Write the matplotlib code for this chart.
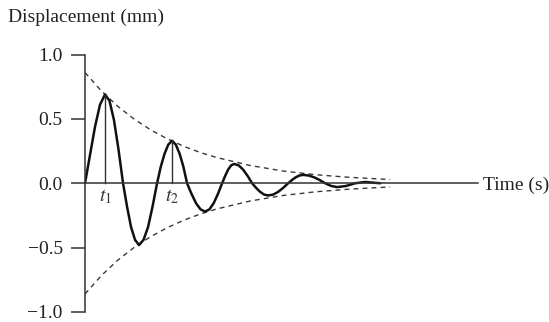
import matplotlib
matplotlib.use("Agg")
import matplotlib.pyplot as plt

plt.rcParams['font.family'] = ['Liberation Serif', 'DejaVu Serif']
plt.rcParams['mathtext.fontset'] = 'stix'

# displacement (time in arbitrary units, mm)
temps = [0.000, 0.076, 0.152, 0.227, 0.303, 0.371, 0.439, 0.508, 0.576,
         0.636, 0.697, 0.758, 0.818, 0.886, 0.955, 1.023, 1.091,
         1.148, 1.205, 1.261, 1.318, 1.375, 1.432, 1.489, 1.545,
         1.614, 1.682, 1.750, 1.818, 1.883, 1.947, 2.012, 2.076,
         2.122, 2.167, 2.213, 2.258, 2.326, 2.394, 2.462, 2.530,
         2.591, 2.652, 2.712, 2.773, 2.849, 2.924, 3.000, 3.076,
         3.133, 3.190, 3.246, 3.303, 3.386, 3.470, 3.553, 3.636,
         3.727, 3.818, 3.954, 4.090, 4.240, 4.470]
depl = [0.00, 0.22, 0.44, 0.61, 0.69, 0.64, 0.49, 0.26, 0.00,
        -0.18, -0.34, -0.44, -0.48, -0.44, -0.34, -0.18, 0.00,
        0.13, 0.23, 0.30, 0.33, 0.30, 0.23, 0.13, 0.00,
        -0.084, -0.156, -0.203, -0.22, -0.203, -0.156, -0.084, 0.00,
        0.057, 0.106, 0.139, 0.15, 0.139, 0.106, 0.057, 0.00,
        -0.036, -0.067, -0.088, -0.095, -0.088, -0.067, -0.036, 0.00,
        0.025, 0.046, 0.060, 0.065, 0.060, 0.046, 0.025, 0.00,
        -0.021, -0.030, -0.021, 0.00, 0.010, 0.00]

# envelope
t_env = [0.0, 0.25, 0.5, 0.75, 1.0, 1.25, 1.5, 1.75, 2.0, 2.5, 3.0, 3.5, 4.0, 4.5, 4.62]
env = [0.86, 0.716, 0.596, 0.496, 0.413, 0.344, 0.286, 0.238, 0.199, 0.138,
       0.095, 0.066, 0.046, 0.032, 0.029]

# marked peaks
t_pics = [0.303, 1.318]
y_pics = [0.69, 0.33]
noms_pics = ['$t_1$', '$t_2$']

yticks = [1.0, 0.5, 0.0, -0.5, -1.0]

fig = plt.figure(figsize=(5.49, 3.22), dpi=100)
ax = fig.add_axes([85/549, 10/322, 393/549, 257.5/322])

c_ax = '#333333'
ax.plot(t_env, env, color='#3a3a3a', lw=1.0, ls=(0, (3.5, 3)))
ax.plot(t_env, [-v for v in env], color='#3a3a3a', lw=1.0, ls=(0, (3.5, 3)))
ax.plot(temps, depl, color='#111111', lw=1.8, solid_capstyle='round')
for t, y, n in zip(t_pics, y_pics, noms_pics):
	ax.plot([t, t], [0, y], color=c_ax, lw=1.0)
	ax.text(t, -0.03, n, ha='center', va='top', fontsize=14, color='#333333')

ax.set_xlim(0, 5.95)
ax.set_ylim(-1, 1)
ax.spines['top'].set_visible(False)
ax.spines['right'].set_visible(False)
ax.spines['bottom'].set_position(('data', 0))
ax.spines['left'].set_color(c_ax)
ax.spines['bottom'].set_color(c_ax)
ax.spines['left'].set_linewidth(1.1)
ax.spines['bottom'].set_linewidth(1.1)
ax.set_xticks([])
ax.set_yticks(yticks)
ax.set_yticklabels([f"{v:.1f}".replace('-', '\u2212') for v in yticks])
ax.tick_params(axis='y', direction='out', length=10, width=1.1, color=c_ax,
               pad=6, labelsize=14, labelcolor='#222222')
ax.patch.set_alpha(0)

fig.text(8/549, 1 - 17/322, 'Displacement (mm)', ha='left', va='center',
         fontsize=14, color='#222222')
fig.text(483/549, 1 - 185/322, 'Time (s)', ha='left', va='center',
         fontsize=14, color='#222222')

fig.savefig('out.png', dpi=100)
